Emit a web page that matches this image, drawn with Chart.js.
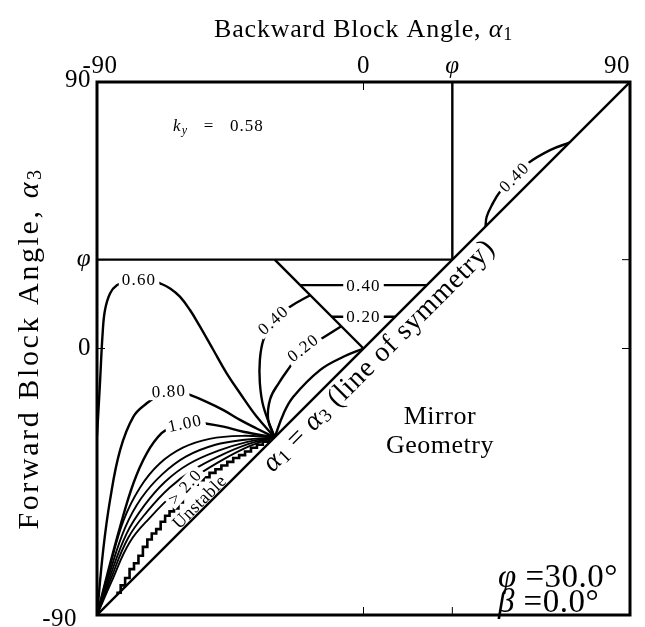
<!DOCTYPE html>
<html>
<head>
<meta charset="utf-8">
<script src="https://cdn.jsdelivr.net/npm/chart.js@4/dist/chart.umd.min.js"></script>
<style>
  html, body { margin: 0; padding: 0; background: #fff; }
  canvas { display: block; }
</style>
</head>
<body>
<canvas id="bloques" width="645" height="627"></canvas>
<script>
//EIXOS
var tickValues = [-90, 0, 30, 90];
var tickLabels = ['-90', '0', 'φ', '90'];

//LINHAS DE REFERENCIA
var symmetry = [[-90, -90], [90, 90]];
var phiRow = [[-90, 30], [30, 30]];
var phiCol = [[30, 30], [30, 90]];
var wedge = [[-30, 30], [0, 0]];

//CONTORNOS ky
var k020flat = [[-10.7, 10.7], [10.7, 10.7]];
var k040flat = [[-21.4, 21.4], [21.4, 21.4]];
var k040upper = [[41.2, 41.2], [41.6, 44.5], [43.4, 48.5], [46.1, 52.9], [50.9, 58.0], [55.6, 62.6], [63.0, 67.0], [69.5, 69.5]];
var k060 = [[-90, -29.5], [-89.0, -11.8], [-88.1, 5.1], [-87.3, 13.0], [-85.6, 18.6], [-83.3, 21.4], [-79.0, 23.0], [-75.5, 23.5],
            [-71.5, 23.0], [-68.7, 22.0], [-65.3, 20.3], [-62.0, 17.5], [-58.6, 13.0], [-55.2, 7.4], [-50.7, -0.5],
            [-46.2, -8.4], [-41.7, -15.1], [-36.1, -23.0], [-30, -30]];
var k080 = [[-90, -90], [-87.9, -68.0], [-85.6, -51.2], [-82.2, -34.3], [-77.7, -23.0], [-73.2, -18.5], [-69.0, -15.8],
            [-65.7, -14.6], [-62.0, -14.6], [-58.6, -15.7], [-53.0, -18.0], [-47.3, -20.8], [-41.7, -24.1], [-36.1, -27.0], [-30, -30]];
var k100 = [[-90, -90], [-86.7, -77.0], [-82.2, -60.2], [-77.7, -45.5], [-73.2, -35.4], [-68.2, -28.6], [-64.0, -26.3],
            [-60.3, -25.2], [-56.5, -25.0], [-53.5, -25.3], [-47.3, -26.4], [-40.6, -28.1], [-30, -30]];
var k120 = [[-90, -90], [-86.0, -75.0], [-81.0, -58.0], [-75.5, -47.0], [-69.0, -39.0], [-61.0, -33.5], [-52.0, -30.5], [-41.0, -29.5], [-30, -30]];
var k140 = [[-90, -90], [-85.8, -76.0], [-80.5, -60.5], [-75.0, -50.5], [-68.0, -42.5], [-60.0, -36.5], [-50.0, -32.5], [-40.0, -30.8], [-30, -30]];
var k160 = [[-90, -90], [-85.6, -77.0], [-80.0, -62.5], [-74.0, -53.0], [-67.0, -45.0], [-59.0, -39.0], [-49.0, -34.5], [-39.5, -31.6], [-30, -30]];
var k180 = [[-90, -90], [-85.4, -78.0], [-79.5, -64.0], [-73.0, -55.0], [-65.5, -47.0], [-57.5, -41.0], [-48.0, -36.0], [-39.0, -32.3], [-30, -30]];
var k200 = [[-90, -90], [-85.2, -79.0], [-79.0, -65.5], [-72.0, -57.0], [-64.0, -49.0], [-56.0, -42.8], [-47.0, -37.3], [-38.5, -33.0], [-30, -30]];
var k040left = [[-30, -30], [-33.8, -19.6], [-35.0, -11.7], [-35.0, -3.9], [-33.8, 2.9], [-30.5, 9.6], [-24.8, 14.1], [-18.0, 18.0]];
var k020left = [[-30, -30], [-32.2, -24.0], [-31.5, -17.0], [-28.5, -11.5], [-24.8, -6.1], [-20.4, 0.2], [-14.1, 3.4], [-7.5, 7.5]];
var k000 = [[-30, -30], [-27.0, -22.0], [-23.7, -16.3], [-14.7, -7.3], [-6.8, -2.8], [0, 0]];

//LIMITE INSTAVEL
var unstable = [[-83.5, -82.5], [-82.0, -80.0], [-80.5, -77.5], [-79.0, -74.5], [-77.5, -72.5], [-76.0, -70.0], [-74.5, -67.0],
                [-73.0, -64.5], [-71.5, -62.5], [-70.0, -61.0], [-68.5, -58.5], [-67.0, -56.5], [-65.5, -55.0], [-64.0, -54.0],
                [-62.5, -52.0], [-61.0, -47.5], [-59.5, -46.5], [-58.0, -46.0], [-56.0, -44.5], [-54.0, -43.5], [-52.0, -42.0],
                [-50.0, -40.8], [-48.0, -39.5], [-46.0, -38.3], [-44.0, -37.0], [-42.0, -36.0], [-40.0, -34.8], [-38.0, -33.5],
                [-36.0, -32.5], [-34.0, -31.5], [-32.0, -30.6]];

//ROTULOS DOS CONTORNOS
var contourLabels = [
    { text: '0.60', x: -75.8, y: 23.3, rot: 0 },
    { text: '0.80', x: -65.7, y: -14.4, rot: -3 },
    { text: '1.00', x: -60.3, y: -25.2, rot: -12 },
    { text: '0.40', x: -30.5, y: 9.6, rot: -42 },
    { text: '0.20', x: -20.4, y: 0.2, rot: -38 },
    { text: '0.40', x: 0, y: 21.4, rot: 0 },
    { text: '0.20', x: 0, y: 10.7, rot: 0 },
    { text: '0.40', x: 50.9, y: 57.9, rot: -45 },
    { text: '> 2.0', x: -60.3, y: -46.7, rot: -48 }
];

var SERIF = '"Liberation Serif", "DejaVu Serif", serif';

function serie(pts, extra) {
    return Object.assign({
        data: pts.map(function (p) { return { x: p[0], y: p[1] }; }),
        showLine: true,
        borderColor: '#000',
        borderWidth: 2.4,
        pointRadius: 0,
        tension: 0.4,
        fill: false
    }, extra || {});
}

// texto com trechos (italico, subscrito)
function drawRuns(c, parts, x, y, align) {
    var w = 0;
    parts.forEach(function (p) { c.font = p.font; w += c.measureText(p.t).width; });
    var cx = align === 'left' ? x : x - w / 2;
    c.textAlign = 'left';
    parts.forEach(function (p) {
        c.font = p.font;
        c.fillText(p.t, cx, y + (p.dy || 0));
        cx += c.measureText(p.t).width;
    });
}

var moldura = {
    id: 'moldura',
    afterDatasetsDraw: function (chart) {
        var c = chart.ctx, a = chart.chartArea;
        var xs = chart.scales.x, ys = chart.scales.y;
        c.save();
        c.fillStyle = '#000';

        // rotulos dos contornos com fundo branco
        contourLabels.forEach(function (l) {
            var px = xs.getPixelForValue(l.x), py = ys.getPixelForValue(l.y);
            c.save();
            c.translate(px, py);
            c.rotate(l.rot * Math.PI / 180);
            c.font = '17px ' + SERIF;
            c.letterSpacing = '1.2px';
            var w = c.measureText(l.text).width + 6;
            c.fillStyle = '#fff';
            c.fillRect(-w / 2, -8, w, 16);
            c.fillStyle = '#000';
            c.textAlign = 'center';
            c.textBaseline = 'middle';
            c.fillText(l.text, 0, 1);
            c.restore();
        });

        // moldura
        c.strokeStyle = '#000';
        c.lineWidth = 3;
        c.strokeRect(a.left, a.top, a.right - a.left, a.bottom - a.top);

        // marcas internas
        c.lineWidth = 1;
        tickValues.forEach(function (v) {
            var px = xs.getPixelForValue(v), py = ys.getPixelForValue(v);
            c.beginPath();
            c.moveTo(px, a.top); c.lineTo(px, a.top + 8);
            c.moveTo(px, a.bottom); c.lineTo(px, a.bottom - 8);
            c.moveTo(a.left, py); c.lineTo(a.left + 8, py);
            c.moveTo(a.right, py); c.lineTo(a.right - 8, py);
            c.stroke();
        });

        // rotulos dos eixos (extremos alinhados para dentro)
        c.letterSpacing = '0.5px';
        var last = tickValues.length - 1;
        tickValues.forEach(function (v, i) {
            c.font = (tickLabels[i] === 'φ' ? 'italic ' : '') + '25px ' + SERIF;
            c.textBaseline = 'alphabetic';
            c.textAlign = i === last ? 'right' : 'center';
            c.fillText(tickLabels[i], xs.getPixelForValue(v) + (i === 0 ? 3 : 0), a.top - 9);
            c.textAlign = 'right';
            c.textBaseline = 'middle';
            if (i === 0) {
                c.fillText(tickLabels[i], a.left - 20, ys.getPixelForValue(v) + 4);
            } else {
                c.fillText(tickLabels[i], a.left - 6, ys.getPixelForValue(v) - (i === last ? 2 : 0));
            }
        });

        c.letterSpacing = '0.8px';
        c.textBaseline = 'middle';
        var R = '26px ' + SERIF, I = 'italic 26px ' + SERIF, S = '18px ' + SERIF;
        drawRuns(c, [{ t: 'Backward Block Angle, ', font: R }, { t: 'α', font: I }, { t: '1', font: S, dy: 5 }],
            (a.left + a.right) / 2, 30, 'center');

        c.letterSpacing = '2.6px';
        var RY = '30px ' + SERIF, IY = 'italic 30px ' + SERIF, SY = '20px ' + SERIF;
        c.save();
        c.translate(30, (a.top + a.bottom) / 2);
        c.rotate(-Math.PI / 2);
        drawRuns(c, [{ t: 'Forward Block Angle, ', font: RY }, { t: 'α', font: IY }, { t: '3', font: SY, dy: 6 }], 0, 0, 'center');
        c.restore();

        // linha de simetria
        c.letterSpacing = '0.8px';
        var R3 = '28px ' + SERIF, I3 = 'italic 28px ' + SERIF, S3 = '19px ' + SERIF;
        c.save();
        c.translate(xs.getPixelForValue(5.3), ys.getPixelForValue(-2.6));
        c.rotate(-Math.PI / 4);
        drawRuns(c, [{ t: 'α', font: I3 }, { t: '1', font: S3, dy: 5 }, { t: ' = ', font: R3 }, { t: 'α', font: I3 },
            { t: '3', font: S3, dy: 5 }, { t: ' (line of symmetry)', font: R3 }], 0, 0, 'center');
        c.restore();

        c.letterSpacing = '0.5px';
        c.save();
        c.translate(xs.getPixelForValue(-55.2), ys.getPixelForValue(-52.0));
        c.rotate(-Math.PI / 4);
        c.font = '18px ' + SERIF;
        c.textAlign = 'center';
        c.fillText('Unstable', 0, 0);
        c.restore();

        c.textAlign = 'center';
        c.font = '26px ' + SERIF;
        c.fillText('Mirror', xs.getPixelForValue(25.8), ys.getPixelForValue(-23.1));
        c.fillText('Geometry', xs.getPixelForValue(25.8), ys.getPixelForValue(-32.9));

        var R2 = '33px ' + SERIF, I2 = 'italic 33px ' + SERIF;
        drawRuns(c, [{ t: 'φ', font: I2 }, { t: ' =30.0°', font: R2 }], xs.getPixelForValue(45.4), ys.getPixelForValue(-77.5), 'left');
        drawRuns(c, [{ t: 'β', font: I2 }, { t: ' =0.0°', font: R2 }], xs.getPixelForValue(45.4), ys.getPixelForValue(-86.0), 'left');

        c.letterSpacing = '1px';
        drawRuns(c, [{ t: 'k', font: 'italic 17px ' + SERIF }, { t: 'y', font: 'italic 12px ' + SERIF, dy: 4 },
            { t: '   =   0.58', font: '17px ' + SERIF }], xs.getPixelForValue(-64.3), ys.getPixelForValue(74.8), 'left');

        c.restore();
    }
};

var ctx = document.getElementById('bloques').getContext('2d');
var grafico = new Chart(ctx, {
    type: 'scatter',
    data: {
        datasets: [
            serie(symmetry, { tension: 0 }),
            serie(phiRow, { tension: 0 }),
            serie(phiCol, { tension: 0 }),
            serie(wedge, { tension: 0 }),
            serie(k020flat, { tension: 0 }),
            serie(k040flat, { tension: 0 }),
            serie(k040upper),
            serie(k060),
            serie(k080),
            serie(k100),
            serie(k120, { borderWidth: 1.9 }),
            serie(k140, { borderWidth: 1.9 }),
            serie(k160, { borderWidth: 1.9 }),
            serie(k180, { borderWidth: 1.9 }),
            serie(k200, { borderWidth: 1.9 }),
            serie(k040left),
            serie(k020left),
            serie(k000),
            serie(unstable, { stepped: 'before', tension: 0, borderWidth: 2.6 })
        ]
    },
    options: {
        responsive: false,
        animation: false,
        layout: { padding: { left: 97, top: 82, right: 15, bottom: 12 } },
        plugins: { legend: { display: false }, tooltip: { enabled: false } },
        scales: {
            x: { type: 'linear', min: -90, max: 90, display: false },
            y: { type: 'linear', min: -90, max: 90, display: false }
        }
    },
    plugins: [moldura]
});
</script>
</body>
</html>
